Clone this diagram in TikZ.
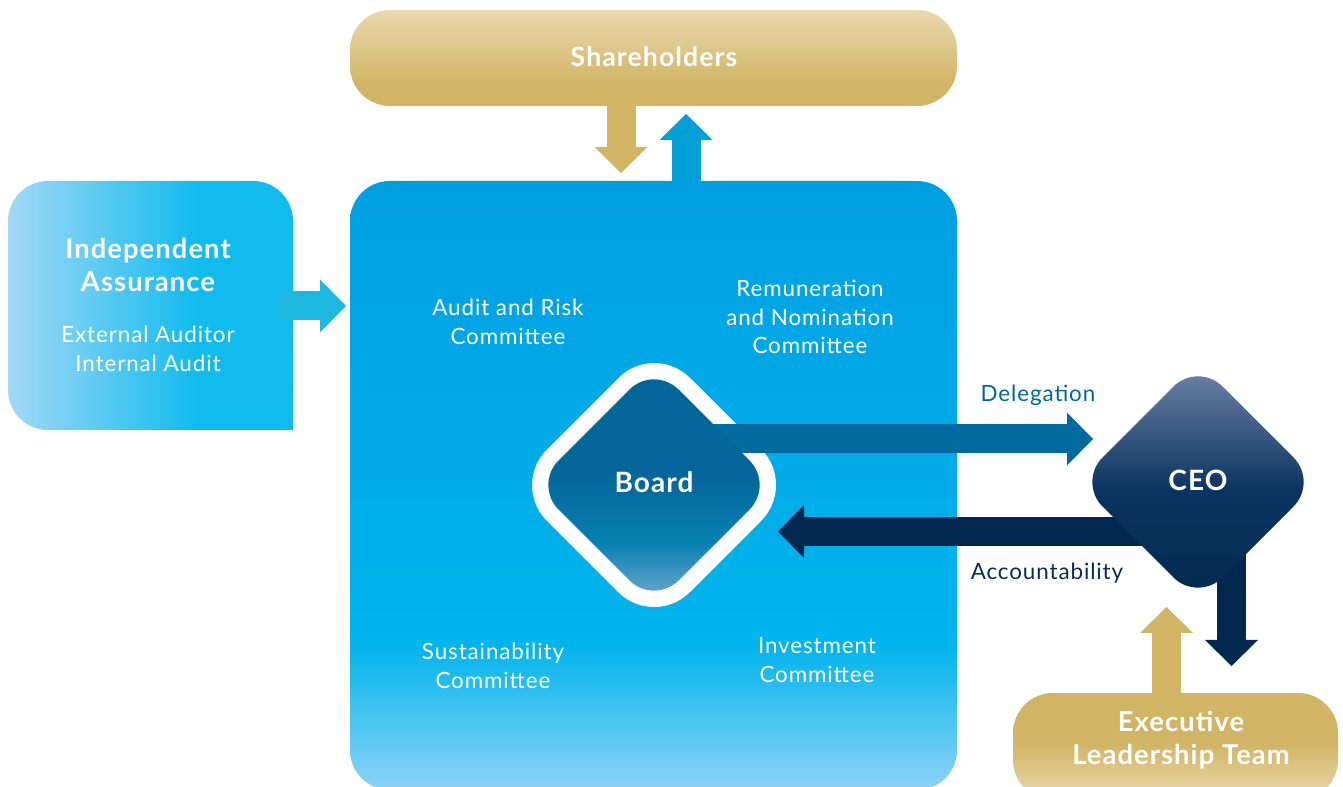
\documentclass[tikz,border=0pt]{standalone}
\usepackage{fontspec}
\setmainfont{Lato}[LetterSpace=4]
\usetikzlibrary{arrows.meta}
\definecolor{goldtop}{HTML}{EAD9B0}
\definecolor{gold}{HTML}{D1B464}
\definecolor{maintop}{HTML}{009FE2}
\definecolor{mainmid}{HTML}{00B4EC}
\definecolor{mainbot}{HTML}{8ED3F6}
\definecolor{upblue}{HTML}{00A0D8}
\definecolor{ialeft}{HTML}{A3D8F6}
\definecolor{iaright}{HTML}{12BBEE}
\definecolor{iaarrow}{HTML}{1EB7E0}
\definecolor{boardtop}{HTML}{04659A}
\definecolor{boardmid}{HTML}{0880B1}
\definecolor{boardbot}{HTML}{7AADD1}
\definecolor{delarrow}{HTML}{00699D}
\definecolor{deltext}{HTML}{00679B}
\definecolor{ceotop}{HTML}{7286A8}
\definecolor{ceomid}{HTML}{0A335F}
\definecolor{ceobot}{HTML}{022A4F}
\definecolor{accarrow}{HTML}{032850}
\definecolor{acctext}{HTML}{0C2B4E}
\pgfdeclareverticalshading{shshade}{100bp}{color(0bp)=(gold); color(25bp)=(gold); color(36bp)=(gold); color(75bp)=(goldtop); color(100bp)=(goldtop)}
\pgfdeclareverticalshading{eltshade}{100bp}{color(0bp)=(goldtop); color(25bp)=(goldtop); color(52bp)=(gold); color(75bp)=(gold); color(100bp)=(gold)}
\pgfdeclareverticalshading{mainshade}{100bp}{color(0bp)=(mainbot); color(25bp)=(mainbot); color(37bp)=(mainmid); color(75bp)=(maintop); color(100bp)=(maintop)}
\pgfdeclarehorizontalshading{iashade}{100bp}{color(0bp)=(ialeft); color(25bp)=(ialeft); color(58bp)=(iaright); color(75bp)=(iaright); color(100bp)=(iaright)}
\pgfdeclareverticalshading{boardshade}{100bp}{color(0bp)=(boardbot); color(25bp)=(boardbot); color(38bp)=(boardmid); color(52bp)=(boardtop); color(75bp)=(boardtop); color(100bp)=(boardtop)}
\pgfdeclareverticalshading{ceoshade}{100bp}{color(0bp)=(ceobot); color(25bp)=(ceobot); color(48bp)=(ceomid); color(75bp)=(ceotop); color(100bp)=(ceotop)}
\tikzset{
  blockarrow/.style={line width=21.75pt, -{Triangle[width=39.75pt,length=19.5pt,line width=0pt]}},
  whitebold/.style={text=white, font=\fontsize{20.5}{24.5}\selectfont\bfseries, align=center, inner sep=0pt},
  whitereg/.style={text=white, font=\fontsize{16.8}{21.5}\selectfont, align=center, inner sep=0pt},
  labeltext/.style={font=\fontsize{16.8}{21.5}\selectfont, inner sep=0pt},
}
\begin{document}
\begin{tikzpicture}[x=0.75pt,y=-0.75pt]
\useasboundingbox (0,0) rectangle (1343,787);
\begin{scope}
\clip (0,0) rectangle (1343,787);
% arrows behind boxes
\coordinate (shA) at (621,100);
\coordinate (shB) at (621,173);
\coordinate (bdA) at (686,190);
\coordinate (bdB) at (686,114);
\coordinate (eltA) at (1166.5,700);
\coordinate (eltB) at (1166.5,607);
\draw[blockarrow, gold] (shA) -- (shB);
\draw[blockarrow, upblue] (bdA) -- (bdB);
\draw[blockarrow, gold] (eltA) -- (eltB);
% Shareholders
\shade[shading=shshade, rounded corners=30pt] (350,10) rectangle (957,106);
\node[whitebold, font=\fontsize{20}{24}\selectfont\bfseries] (sh) at (654,57) {Shareholders};
% main box
\shade[shading=mainshade, rounded corners=30pt] (350,181) rectangle (957,790);
% Independent Assurance
\shade[shading=iashade, rounded corners=30pt] (8,181) rectangle (293,430);
\fill[iaright] (240,380) rectangle (293,430);
\node[whitebold] (ia) at (148,265) {Independent\\Assurance};
\node[whitereg, font=\fontsize{16.8}{21.75}\selectfont] (iasub) at (148,349) {External Auditor\\Internal Audit};
\coordinate (iaA) at (278,306);
\coordinate (iaB) at (346,306);
\draw[blockarrow, iaarrow] (iaA) -- (iaB);
% committees
\node[whitereg] (arc) at (508,322) {Audit and Risk\\Committee};
\node[whitereg] (rnc) at (810,317) {Remuneration\\and Nomination\\Committee};
\node[whitereg] (sc) at (493,666) {Sustainability\\Committee};
\node[whitereg] (ic) at (817,660) {Investment\\Committee};
% Board outer white
\fill[white, rounded corners=38pt] (583,414) -- (654,342) -- (797,485) -- (654,628) -- (511,485) -- cycle;
% delegation / accountability / CEO-down arrows
\coordinate (delA) at (712,439);
\coordinate (delB) at (1093,439);
\coordinate (accA) at (1150,531.5);
\coordinate (accB) at (778,531.5);
\coordinate (ceoA) at (1231.5,540);
\coordinate (ceoB) at (1231.5,666);
\draw[blockarrow, delarrow] (delA) -- (delB);
\draw[blockarrow, accarrow] (accA) -- (accB);
\draw[blockarrow, accarrow] (ceoA) -- (ceoB);
% Board inner
\shade[shading=boardshade, rounded corners=26pt] (594,425) -- (654,365) -- (774,485) -- (654,605) -- (534,485) -- cycle;
\node[whitebold, font=\fontsize{21}{24}\selectfont\bfseries] (board) at (654,482) {Board};
% CEO
\shade[shading=ceoshade, rounded corners=26pt] (1138,422) -- (1198,362) -- (1318,482) -- (1198,602) -- (1078,482) -- cycle;
\node[whitebold, font=\fontsize{21}{24}\selectfont\bfseries] (ceo) at (1198,480) {CEO};
\node[labeltext, text=deltext] (del) at (1038,395) {Delegation};
\node[labeltext, text=acctext] (acc) at (1047,573) {Accountability};
% ELT
\shade[shading=eltshade, rounded corners=30pt] (1013,693) rectangle (1338,800);
\node[whitebold] (elt) at (1181,740) {Executive\\Leadership Team};
\end{scope}
\end{tikzpicture}
\end{document}
